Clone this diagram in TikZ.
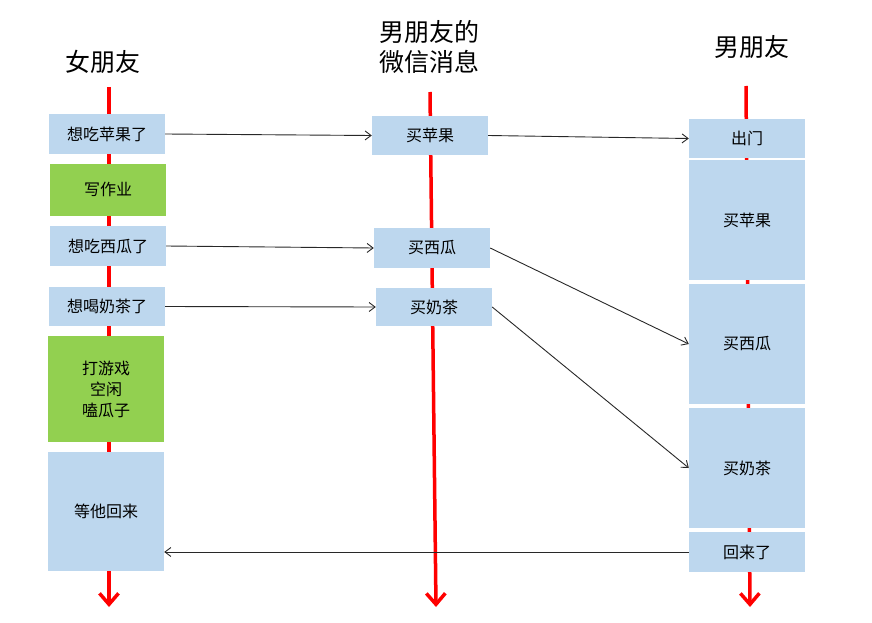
\documentclass[tikz,border=0pt]{standalone}
\usepackage{fontspec}
\setmainfont{Noto Sans CJK SC}
\usetikzlibrary{arrows.meta}
\begin{document}
\begin{tikzpicture}[x=1pt, y=-1pt,
    box/.style={fill={rgb,255:red,189;green,215;blue,238}, minimum width=116pt, inner sep=0pt, font=\fontsize{16}{21}\selectfont, align=center},
    busy/.style={box, fill={rgb,255:red,146;green,208;blue,80}},
    title/.style={font=\fontsize{25}{30}\selectfont, align=center},
    timeline/.style={red, line width=3.5pt, -{Straight Barb[length=11pt, width=19pt]}},
    msg/.style={draw={rgb,255:red,40;green,40;blue,40}, line width=0.9pt, -{Straight Barb[length=6pt, width=9pt]}}]
    \useasboundingbox (0,0) rectangle (872,623);
    % titles
    \node[title] (t1) at (103,62) {女朋友}; \node[title] (t2) at (429,47) {男朋友的\\微信消息}; \node[title] (t3) at (752,47) {男朋友};
    % time lines
    \coordinate (l1) at (109,87); \coordinate (l1e) at (109,607);
    \coordinate (l2) at (430,92); \coordinate (l2e) at (436,607);
    \coordinate (l3) at (746,86); \coordinate (l3e) at (750,607);
    \draw[timeline] (l1) -- (l1e); \draw[timeline] (l2) -- (l2e); \draw[timeline] (l3) -- (l3e);
    % girlfriend
    \node[box, minimum height=40pt] (gf1) at (107,134) {想吃苹果了};
    \node[busy, minimum height=52pt] (gf2) at (108,189.5) {写作业};
    \node[box, minimum height=40pt] (gf3) at (108,246) {想吃西瓜了};
    \node[box, minimum height=39pt] (gf4) at (107,306.5) {想喝奶茶了};
    \node[busy, minimum height=106pt] (gf5) at (106,389) {打游戏\\空闲\\嗑瓜子};
    \node[box, minimum height=119pt] (gf6) at (106,511.5) {等他回来};
    % messages
    \node[box, minimum height=39pt] (msg1) at (430,135.5) {买苹果};
    \node[box, minimum height=40pt] (msg2) at (432,248) {买西瓜};
    \node[box, minimum height=38pt] (msg3) at (434,307) {买奶茶};
    % boyfriend
    \node[box, minimum height=39pt] (bf1) at (747,138.5) {出门};
    \node[box, minimum height=120pt] (bf2) at (747,220) {买苹果};
    \node[box, minimum height=120pt] (bf3) at (747,344) {买西瓜};
    \node[box, minimum height=120pt] (bf4) at (747,468) {买奶茶};
    \node[box, minimum height=40pt] (bf5) at (747,552) {回来了};
    % arrows
    \draw[msg] (gf1.east) -- (msg1.west); \draw[msg] (msg1.east) -- (bf1.west);
    \draw[msg] (gf3.east) -- (msg2.west); \draw[msg] (msg2.east) -- (bf3.west);
    \draw[msg] (gf4.east) -- (msg3.west); \draw[msg] (msg3.east) -- (bf4.west);
    \draw[msg] (bf5.west) -- (gf6.east |- bf5.west);
\end{tikzpicture}
\end{document}
